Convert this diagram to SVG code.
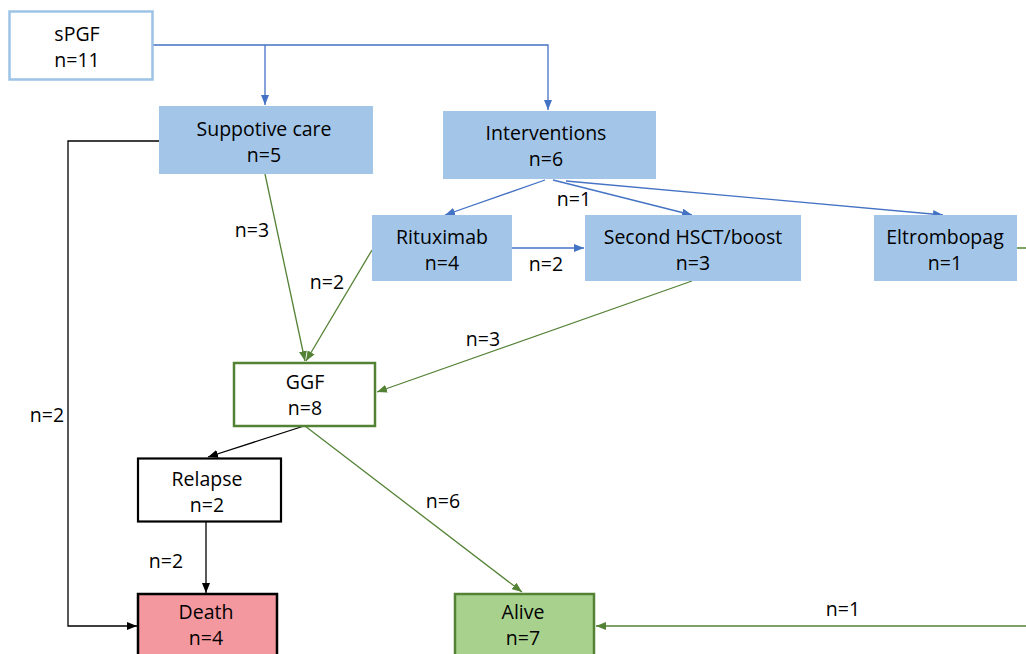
<svg xmlns="http://www.w3.org/2000/svg" width="1026" height="654" viewBox="0 0 1026 654">
<defs>
<style>
text{font-family:"Open Sans","Noto Sans",sans-serif;font-size:19.5px;fill:#000;text-anchor:middle}
.blue{fill:#A3C6E8;stroke:none}
.cb{fill:none;stroke:#4472C4;stroke-width:1.3}
.cg{fill:none;stroke:#548235;stroke-width:1.3}
.ck{fill:none;stroke:#000;stroke-width:1.3}
</style>
<marker id="ab" viewBox="0 0 10 8" refX="10" refY="4" markerWidth="10" markerHeight="8" markerUnits="userSpaceOnUse" orient="auto"><path d="M0,0L10,4L0,8z" fill="#4472C4"/></marker>
<marker id="ag" viewBox="0 0 10 8" refX="10" refY="4" markerWidth="10" markerHeight="8" markerUnits="userSpaceOnUse" orient="auto"><path d="M0,0L10,4L0,8z" fill="#548235"/></marker>
<marker id="ak" viewBox="0 0 10 8" refX="10" refY="4" markerWidth="10" markerHeight="8" markerUnits="userSpaceOnUse" orient="auto"><path d="M0,0L10,4L0,8z" fill="#000"/></marker>
</defs>
<rect width="1026" height="654" fill="#fff"/>
<g id="connectors">
<path class="cb" d="M153,45H548V110" marker-end="url(#ab)"/>
<path class="cb" d="M265,45V105" marker-end="url(#ab)"/>
<path class="cb" d="M545,180L445,215" marker-end="url(#ab)"/>
<path class="cb" d="M553,180L692,215" marker-end="url(#ab)"/>
<path class="cb" d="M566,181L943,215" marker-end="url(#ab)"/>
<path class="cb" d="M512,248H584" marker-end="url(#ab)"/>
<path class="cg" d="M265,174L305,361" marker-end="url(#ag)"/>
<path class="cg" d="M372,250L306,361" marker-end="url(#ag)"/>
<path class="cg" d="M692,281L377,392" marker-end="url(#ag)"/>
<path class="cg" d="M305,426L522,592" marker-end="url(#ag)"/>
<path class="cg" d="M1017,248H1032V626H596" marker-end="url(#ag)"/>
<path class="ck" d="M304,426L208,457" marker-end="url(#ak)"/>
<path class="ck" d="M206,522V593" marker-end="url(#ak)"/>
<path class="ck" d="M159,141H68V626H137" marker-end="url(#ak)"/>
<text x="252" y="237">n=3</text>
<text x="327" y="289">n=2</text>
<text x="574" y="206">n=1</text>
<text x="546" y="271">n=2</text>
<text x="483" y="346">n=3</text>
<text x="47" y="422">n=2</text>
<text x="443" y="508">n=6</text>
<text x="166" y="568">n=2</text>
<text x="843" y="616">n=1</text>
</g>
<g id="spgf"><rect x="9.5" y="11.5" width="143" height="68" fill="#fff" stroke="#9DC3E6" stroke-width="2.5"/><text x="77" y="41">sPGF</text><text x="77" y="67">n=11</text></g>
<g id="supportive"><rect class="blue" x="159" y="106" width="214" height="68"/><text x="264" y="136">Suppotive care</text><text x="264" y="162">n=5</text></g>
<g id="interventions"><rect class="blue" x="443" y="111" width="213" height="68"/><text x="546" y="140">Interventions</text><text x="546" y="166">n=6</text></g>
<g id="rituximab"><rect class="blue" x="372" y="215" width="140" height="66"/><text x="442" y="244">Rituximab</text><text x="442" y="270">n=4</text></g>
<g id="hsct"><rect class="blue" x="585" y="215" width="216" height="66"/><text x="693" y="244">Second HSCT/boost</text><text x="693" y="270">n=3</text></g>
<g id="eltrombopag"><rect class="blue" x="874" y="215" width="143" height="66"/><text x="945" y="244">Eltrombopag</text><text x="945" y="270">n=1</text></g>
<g id="ggf"><rect x="234" y="363" width="141" height="63" fill="#fff" stroke="#548235" stroke-width="2.5"/><text x="305" y="389">GGF</text><text x="305" y="415">n=8</text></g>
<g id="relapse"><rect x="138" y="458.5" width="143" height="63" fill="#fff" stroke="#000" stroke-width="2.2"/><text x="207" y="486">Relapse</text><text x="207" y="512">n=2</text></g>
<g id="death"><rect x="138" y="594" width="139" height="70" fill="#F4989F" stroke="#000" stroke-width="2.5"/><text x="206" y="619">Death</text><text x="206" y="645">n=4</text></g>
<g id="alive"><rect x="455" y="594" width="139" height="70" fill="#A9D18E" stroke="#548235" stroke-width="2.5"/><text x="523" y="619">Alive</text><text x="523" y="645">n=7</text></g>
</svg>
